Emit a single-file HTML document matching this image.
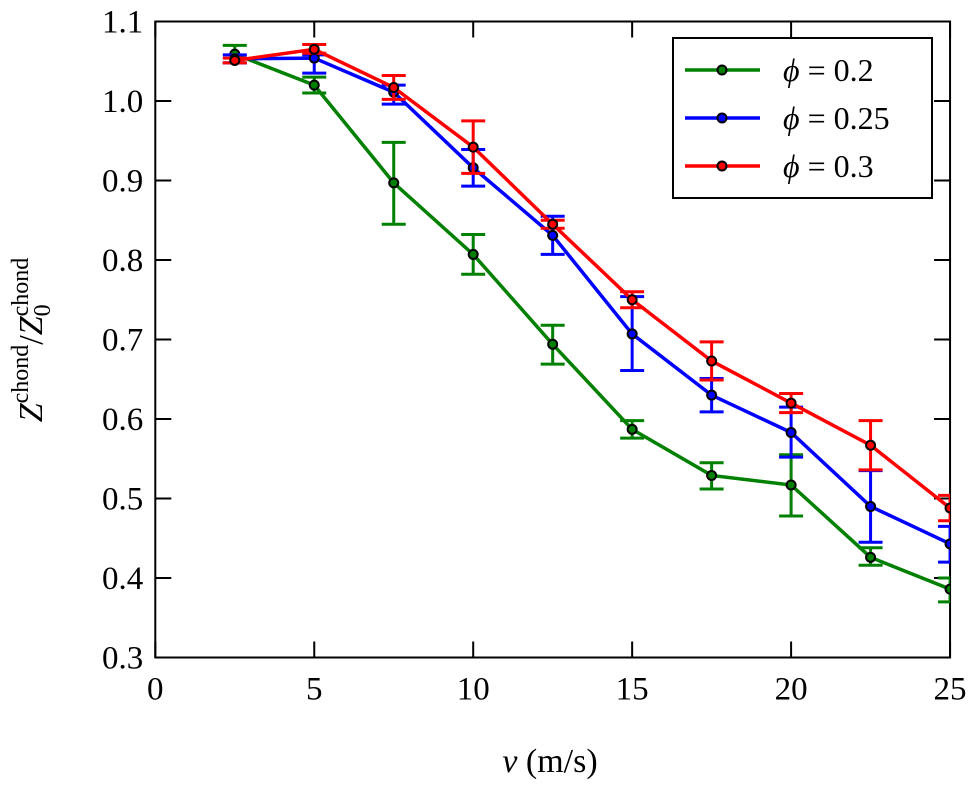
<!DOCTYPE html>
<html><head><meta charset="utf-8"><style>
body{margin:0;background:#fff}
svg text{font-family:"Liberation Serif",serif;fill:#000}
</style></head><body>
<svg id="chart" width="978" height="787" xmlns="http://www.w3.org/2000/svg">
<g id="axes"></g>
<g id="plot"></g>
<g id="legend"></g>
<text x="42" y="340" font-size="34" text-anchor="middle" transform="rotate(-90 42 340)"><tspan font-style="italic">Z</tspan><tspan font-size="24" dy="-14">chond</tspan><tspan dy="14">/</tspan><tspan font-style="italic">Z</tspan><tspan font-size="24" dy="8">0</tspan><tspan font-size="24" dy="-22" dx="-12">chond</tspan></text>
<text x="550" y="772" font-size="34" text-anchor="middle"><tspan font-style="italic">v</tspan> (m/s)</text>
</svg>
<script>
const xs=[2.5,5,7.5,10,12.5,15,17.5,20,22.5,25];
const green=[1.059,1.020,0.897,0.807,0.694,0.587,0.529,0.517,0.426,0.386];
const greenHi=[1.070,1.030,0.948,0.832,0.718,0.598,0.545,0.555,0.438,0.400];
const greenLo=[1.048,1.010,0.845,0.782,0.669,0.576,0.512,0.478,0.416,0.370];
const blue=[1.053,1.054,1.011,0.916,0.831,0.707,0.630,0.583,0.490,0.443];
const blueHi=[1.058,1.058,1.020,0.939,0.855,0.754,0.651,0.615,0.535,0.465];
const blueLo=[1.048,1.035,0.996,0.893,0.807,0.661,0.609,0.552,0.445,0.420];
const red=[1.051,1.065,1.017,0.942,0.845,0.750,0.673,0.620,0.567,0.488];
const redHi=[1.054,1.071,1.032,0.975,0.850,0.760,0.697,0.632,0.598,0.504];
const redLo=[1.048,1.060,1.002,0.909,0.840,0.740,0.649,0.608,0.536,0.472];
const xTicks=[0,5,10,15,20,25];
const yTicks=[0.3,0.4,0.5,0.6,0.7,0.8,0.9,1.0,1.1];
const phiVals=["0.2","0.25","0.3"];
const X=v=>155.3+v*31.79, Y=v=>101+(1.0-v)*795;
const NS="http://www.w3.org/2000/svg";
function mk(t,a,p){const e=document.createElementNS(NS,t);for(const k in a)e.setAttribute(k,a[k]);p.appendChild(e);return e;}
const ax=document.getElementById('axes'),pl=document.getElementById('plot'),lg=document.getElementById('legend');
const frame=mk('rect',{x:X(0),y:Y(1.1),width:X(25)-X(0),height:Y(0.3)-Y(1.1),fill:'none',stroke:'#000','stroke-width':2},ax);


xTicks.forEach(t=>{
  mk('line',{x1:X(t),x2:X(t),y1:Y(0.3),y2:Y(0.3)-16,stroke:'#000','stroke-width':2},ax);
  mk('line',{x1:X(t),x2:X(t),y1:Y(1.1),y2:Y(1.1)+16,stroke:'#000','stroke-width':2},ax);
  const tx=mk('text',{x:X(t),y:Y(0.3)+42,'font-size':33,'text-anchor':'middle'},ax);tx.textContent=t;
  
  
});
yTicks.forEach(t=>{
  mk('line',{x1:X(0),x2:X(0)+16,y1:Y(t),y2:Y(t),stroke:'#000','stroke-width':2},ax);
  mk('line',{x1:X(25),x2:X(25)-16,y1:Y(t),y2:Y(t),stroke:'#000','stroke-width':2},ax);
  const tx=mk('text',{x:X(0)-12,y:Y(t)+11,'font-size':33,'text-anchor':'end'},ax);tx.textContent=t.toFixed(1);
  
  
});
const series=[[green,greenHi,greenLo,'#008000','green'],[blue,blueHi,blueLo,'#0000ff','blue'],[red,redHi,redLo,'#ff0000','red']];
const cp=mk('clipPath',{id:'cp'},pl);mk('rect',{x:X(0),y:Y(1.1),width:X(25)-X(0),height:Y(0.3)-Y(1.1)},cp);
const g=mk('g',{'clip-path':'url(#cp)'},pl);
series.forEach(([v,hi,lo,c,n])=>{
  xs.forEach((x,i)=>{
    const e=mk('path',{d:`M${X(x)},${Y(hi[i])}V${Y(lo[i])}M${X(x)-12},${Y(hi[i])}h24M${X(x)-12},${Y(lo[i])}h24`,stroke:c,'stroke-width':3,fill:'none'},g);
    
    
  });
  const l=mk('polyline',{points:xs.map((x,i)=>X(x)+','+Y(v[i])).join(' '),stroke:c,'stroke-width':3.5,fill:'none'},g);
  
  
  xs.forEach((x,i)=>{
    const p=mk('circle',{cx:X(x),cy:Y(v[i]),r:4.5,fill:c,stroke:'#000','stroke-width':2},g);
    
    
  });
});
mk('rect',{x:673,y:38,width:259,height:160,fill:'#fff',stroke:'#000','stroke-width':2},lg);
series.forEach(([v,hi,lo,c,n],i)=>{
  const y=70+i*48;
  const e=mk('g',{},lg);
  
  
  mk('line',{x1:685,x2:760,y1:y,y2:y,stroke:c,'stroke-width':3.5},e);
  mk('circle',{cx:722,cy:y,r:4.5,fill:c,stroke:'#000','stroke-width':2},e);
  const t=mk('text',{x:783,y:y+11,'font-size':32},e);
  const s=mk('tspan',{'font-style':'italic'},t);s.textContent='\u03D5';
  const s2=mk('tspan',{},t);s2.textContent=' = '+phiVals[i];
});
</script>
</body></html>
